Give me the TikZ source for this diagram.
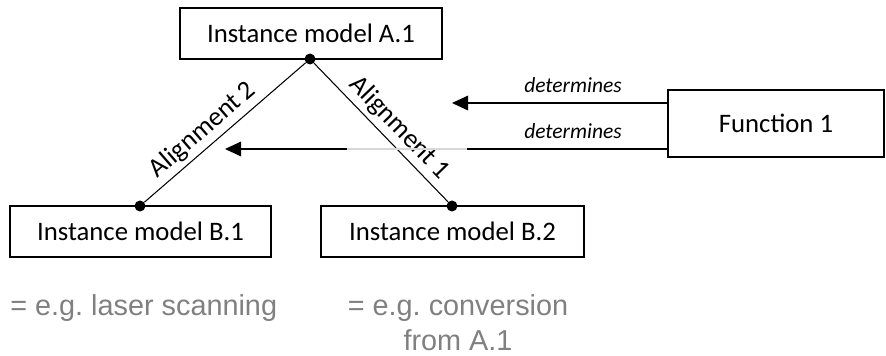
\documentclass[tikz,border=0pt]{standalone}
\usepackage{fontspec}
\setmainfont{Carlito}
\newfontfamily\notefont{Liberation Sans}
\usetikzlibrary{arrows.meta}
\definecolor{notegray}{RGB}{128,128,128}
\definecolor{fadegray}{RGB}{215,215,215}
\frenchspacing
\tikzset{
  modelbox/.style={draw, line width=1pt, inner sep=0pt, font=\fontsize{19}{22}\selectfont},
  joint/.style={circle, fill, inner sep=0pt, minimum size=7.8pt},
  link/.style={line width=0.75pt},
  detline/.style={line width=0.9pt},
  detarrow/.style={detline, -{Triangle[length=11.5pt, width=10.5pt]}},
  detlabel/.style={font=\itshape\fontsize{15.3}{18}\selectfont},
  alignlabel/.style={font=\fontsize{19}{22}\selectfont, inner sep=3pt},
  notetext/.style={text=notegray, font=\notefont\fontsize{20.5}{24.8}\selectfont, align=center, inner sep=0pt}
}
\begin{document}
\begin{tikzpicture}[x=0.025cm, y=-0.025cm]
				\useasboundingbox (0, 0) rectangle (886, 355);
				% Boxes:
				\node[modelbox, minimum width=6.55cm, minimum height=1.275cm] (a1) at (311, 33.5){Instance model A.1};
				\node[modelbox, minimum width=6.525cm, minimum height=1.275cm] (b1) at (140.5, 231.5){Instance model B.1};
				\node[modelbox, minimum width=6.575cm, minimum height=1.275cm] (b2) at (452.5, 231.5){Instance model B.2};
				\node[modelbox, minimum width=5.4cm, minimum height=1.675cm] (fn) at (776, 123.5){Function 1};
				% Joints and alignments:
				\node[joint] (ja) at (310, 59){};
				\node[joint] (jb1) at (140, 206){};
				\node[joint] (jb2) at (452, 206){};
				\draw[link] (ja) -- (jb1) node[pos=0.57, sloped, above, alignlabel]{Alignment 2};
				\draw[link] (ja) -- (jb2) node[pos=0.55, sloped, above, alignlabel]{Alignment 1};
				% Determines arrows:
				\coordinate (t1) at (452, 103);
				\coordinate (t2) at (225, 149);
				\coordinate (f1) at (467, 149);
				\coordinate (f2) at (347, 149);
				\draw[detarrow] (fn.west |- t1) -- (t1);
				\draw[detline] (fn.west |- t2) -- (f1);
				\draw[detline, fadegray] (f1) -- (f2);
				\draw[detarrow] (f2) -- (t2);
				\node[detlabel] (d1) at (573, 85){determines};
				\node[detlabel] (d2) at (573, 131){determines};
				% Notes:
				\node[notetext, anchor=base west] (n1) at (10, 315){= e.g. laser scanning};
				\node[notetext, anchor=base] (n2) at (458, 350){= e.g. conversion\\from A.1};
			\end{tikzpicture}
\end{document}
